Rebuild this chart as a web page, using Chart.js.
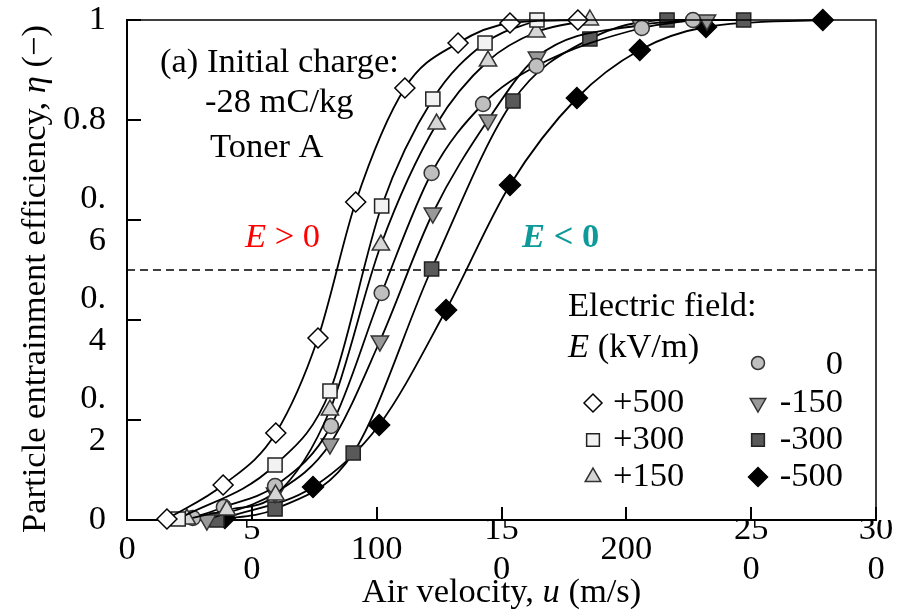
<!DOCTYPE html>
<html>
<head>
<meta charset="utf-8">
<script src="https://cdn.jsdelivr.net/npm/chart.js@4.4.0/dist/chart.umd.min.js"></script>
<style>
    html, body { margin: 0; padding: 0; background: #fff; }
</style>
</head>
<body>
<canvas id="effChart" width="905" height="614"></canvas>
<script>
// Data: air velocity u (m/s) vs entrainment efficiency eta (-)
const fieldLabels = ['+500', '+300', '+150', '0', '-150', '-300', '-500'];

const uP500 = [16, 38.5, 59.6, 76.5, 91.6, 111.3, 132.6, 153.4, 180.6];
const etaP500 = [0.002, 0.07, 0.174, 0.364, 0.636, 0.864, 0.954, 0.994, 1.0];

const uP300 = [20.5, 59.3, 81.3, 102, 122.5, 143.4, 164.2];
const etaP300 = [0.002, 0.11, 0.258, 0.628, 0.842, 0.954, 1.0];

const uP150 = [24, 40, 59.5, 81.3, 101.7, 124, 144.6, 164, 185.4];
const etaP150 = [0.002, 0.02, 0.05, 0.22, 0.55, 0.792, 0.918, 0.976, 1.0];

const uZero = [26.4, 38.8, 59.3, 81.7, 102, 122, 142.6, 164, 206.2, 226.7];
const etaZero = [0.004, 0.026, 0.068, 0.188, 0.454, 0.694, 0.832, 0.908, 0.984, 1.0];

const uM150 = [32, 59.3, 81.3, 101.3, 122.5, 144.6, 164.2, 205.8, 232.3];
const etaM150 = [0.0, 0.054, 0.152, 0.358, 0.614, 0.8, 0.926, 0.99, 1.0];

const uM300 = [36, 59.3, 90.6, 122, 154.6, 185.4, 216.3, 247];
const etaM300 = [0.0, 0.022, 0.134, 0.502, 0.838, 0.962, 1.0, 1.0];

const uM500 = [39.2, 74.5, 101, 127.8, 153.4, 180.2, 205.4, 231.9, 278.7];
const etaM500 = [0.004, 0.066, 0.19, 0.42, 0.67, 0.844, 0.94, 0.986, 1.0];

// tick labels as they appear (wrapped) in the figure
const xTickLabels = [['', '0'], ['5', '', '0'], ['', '100'], ['15', '', '0'], ['', '200'], ['25', '', '0'], ['30', '', '0']];
const yTickLabels = ['0', ['0.', '2'], ['0.', '4'], ['0.', '6'], '0.8', '1'];

const SERIF = '"Liberation Serif", "Times New Roman", serif';
const FS = 34.5;

function pts(xs, ys) {
    return xs.map((x, i) => ({ x: x, y: ys[i] }));
}

const markerStyles = [
    { style: 'rectRot', radius: 10, rot: 0, bg: '#ffffff', bd: '#000000' },
    { style: 'rect', radius: 10, rot: 0, bg: '#f2f2f2', bd: '#222222' },
    { style: 'triangle', radius: 10, rot: 0, bg: '#d6d6d6', bd: '#333333' },
    { style: 'circle', radius: 7.5, rot: 0, bg: '#bfbfbf', bd: '#333333' },
    { style: 'triangle', radius: 10, rot: 180, bg: '#999999', bd: '#333333' },
    { style: 'rect', radius: 10, rot: 0, bg: '#595959', bd: '#222222' },
    { style: 'rectRot', radius: 10.5, rot: 0, bg: '#000000', bd: '#000000' },
];

const seriesData = [
    pts(uP500, etaP500), pts(uP300, etaP300), pts(uP150, etaP150), pts(uZero, etaZero),
    pts(uM150, etaM150), pts(uM300, etaM300), pts(uM500, etaM500),
];

const datasets = seriesData.map((d, i) => {
    const m = markerStyles[i];
    return {
        label: fieldLabels[i],
        data: d,
        showLine: true,
        borderColor: '#000',
        borderWidth: 1.8,
        cubicInterpolationMode: 'monotone',
        pointStyle: m.style,
        pointRadius: m.radius,
        pointHoverRadius: m.radius,
        pointRotation: m.rot,
        pointBackgroundColor: m.bg,
        pointBorderColor: m.bd,
        pointBorderWidth: 1.5,
        clip: false,
    };
});

// draw text made of parts with different fonts/colours
function richText(ctx, parts, x, y, align) {
    let total = 0;
    parts.forEach((p) => { ctx.font = p.f; total += ctx.measureText(p.t).width; });
    let cx = align === 'center' ? x - total / 2 : (align === 'right' ? x - total : x);
    ctx.textAlign = 'left';
    ctx.textBaseline = 'middle';
    parts.forEach((p) => {
        ctx.font = p.f;
        ctx.fillStyle = p.c || '#000';
        ctx.fillText(p.t, cx, y);
        cx += ctx.measureText(p.t).width;
    });
}

const F = (style) => (style || '') + ' ' + FS + 'px ' + SERIF;

const decorPlugin = {
    id: 'decor',
    beforeDatasetsDraw(chart) {
        const ctx = chart.ctx;
        const a = chart.chartArea;
        const y = chart.scales.y.getPixelForValue(0.5);
        ctx.save();
        ctx.strokeStyle = '#000';
        ctx.lineWidth = 1.5;
        ctx.setLineDash([8, 5]);
        ctx.beginPath();
        ctx.moveTo(a.left, y);
        ctx.lineTo(a.right, y);
        ctx.stroke();
        ctx.restore();
    },
    afterDraw(chart) {
        const ctx = chart.ctx;
        const a = chart.chartArea;
        const xs = chart.scales.x;
        const ys = chart.scales.y;
        ctx.save();
        // frame top and right
        ctx.strokeStyle = '#000';
        ctx.lineWidth = 1.5;
        ctx.beginPath();
        ctx.moveTo(a.left, a.top);
        ctx.lineTo(a.right, a.top);
        ctx.lineTo(a.right, a.bottom);
        ctx.stroke();
        // inward ticks
        ctx.lineWidth = 2;
        ctx.beginPath();
        xs.ticks.forEach((t) => {
            const px = Math.round(xs.getPixelForValue(t.value));
            ctx.moveTo(px, a.bottom);
            ctx.lineTo(px, a.bottom - 13);
        });
        ys.ticks.forEach((t) => {
            const py = Math.round(ys.getPixelForValue(t.value));
            ctx.moveTo(a.left, py);
            ctx.lineTo(a.left + 14, py);
        });
        ctx.stroke();

        // axis titles
        richText(ctx, [
            { t: 'Air velocity, ', f: F() },
            { t: 'u', f: F('italic') },
            { t: ' (m/s)', f: F() },
        ], (a.left + a.right) / 2, 593, 'center');
        ctx.save();
        ctx.translate(36, 279);
        ctx.rotate(-Math.PI / 2);
        richText(ctx, [
            { t: 'Particle entrainment efficiency, ', f: F() },
            { t: 'η', f: F('italic') },
            { t: ' (−)', f: F() },
        ], 0, 0, 'center');
        ctx.restore();

        // annotations
        richText(ctx, [{ t: '(a) Initial charge:', f: F() }], 160, 63, 'left');
        richText(ctx, [{ t: '-28 mC/kg', f: F() }], 205, 103, 'left');
        richText(ctx, [{ t: 'Toner A', f: F() }], 210, 148, 'left');
        richText(ctx, [
            { t: 'E', f: F('italic'), c: '#ff0000' },
            { t: ' > 0', f: F(), c: '#ff0000' },
        ], 245, 238, 'left');
        richText(ctx, [
            { t: 'E', f: F('italic bold'), c: '#0f9a9a' },
            { t: ' < 0', f: F('bold'), c: '#0f9a9a' },
        ], 522, 238, 'left');

        // legend
        richText(ctx, [{ t: 'Electric field:', f: F() }], 568, 307, 'left');
        richText(ctx, [
            { t: 'E', f: F('italic') },
            { t: ' (kV/m)', f: F() },
        ], 568, 348, 'left');
        const rowsY = [403, 440, 477];
        const col2Y = [363, 403, 440, 477];
        const drawMark = (i, x, y) => {
            const m = markerStyles[i];
            ctx.fillStyle = m.bg;
            ctx.strokeStyle = m.bd;
            ctx.lineWidth = 1.5;
            Chart.helpers.drawPoint(ctx, {
                pointStyle: m.style, radius: m.radius - 1, rotation: m.rot, borderWidth: 1.5,
            }, x, y);
        };
        for (let i = 0; i < 3; i++) {
            drawMark(i, 593, rowsY[i]);
            richText(ctx, [{ t: fieldLabels[i], f: F() }], 613, rowsY[i], 'left');
        }
        for (let i = 3; i < 7; i++) {
            const yy = col2Y[i - 3];
            drawMark(i, 758, yy);
            richText(ctx, [{ t: fieldLabels[i], f: F() }], 843, yy + (i === 3 ? 2 : 0), 'right');
        }
        ctx.restore();
    },
};

const config = {
    type: 'scatter',
    data: { datasets: datasets },
    options: {
        responsive: false,
        animation: false,
        devicePixelRatio: 1,
        layout: { padding: { top: 20, right: 29, left: 0, bottom: 0 } },
        plugins: {
            legend: { display: false },
            tooltip: { enabled: false },
        },
        scales: {
            x: {
                type: 'linear',
                min: 0,
                max: 300,
                afterFit: (s) => { s.height = 94; s.paddingLeft = 0; s.paddingRight = 0; },
                grid: { display: false, drawTicks: false },
                border: { display: true, color: '#000', width: 2 },
                ticks: {
                    stepSize: 50,
                    autoSkip: false,
                    maxRotation: 0,
                    padding: 0,
                    color: '#000',
                    font: { family: SERIF, size: FS, lineHeight: '20px' },
                    callback: (v, i) => xTickLabels[i],
                },
            },
            y: {
                min: 0,
                max: 1,
                afterFit: (s) => { s.width = 127; s.paddingTop = 0; s.paddingBottom = 0; },
                grid: { display: false, drawTicks: false },
                border: { display: true, color: '#000', width: 2 },
                ticks: {
                    stepSize: 0.2,
                    padding: 21,
                    color: '#000',
                    font: { family: SERIF, size: FS, lineHeight: '42px' },
                    callback: (v, i) => yTickLabels[i],
                },
            },
        },
    },
    plugins: [decorPlugin],
};

const effChart = new Chart(document.getElementById('effChart'), config);
</script>
</body>
</html>
